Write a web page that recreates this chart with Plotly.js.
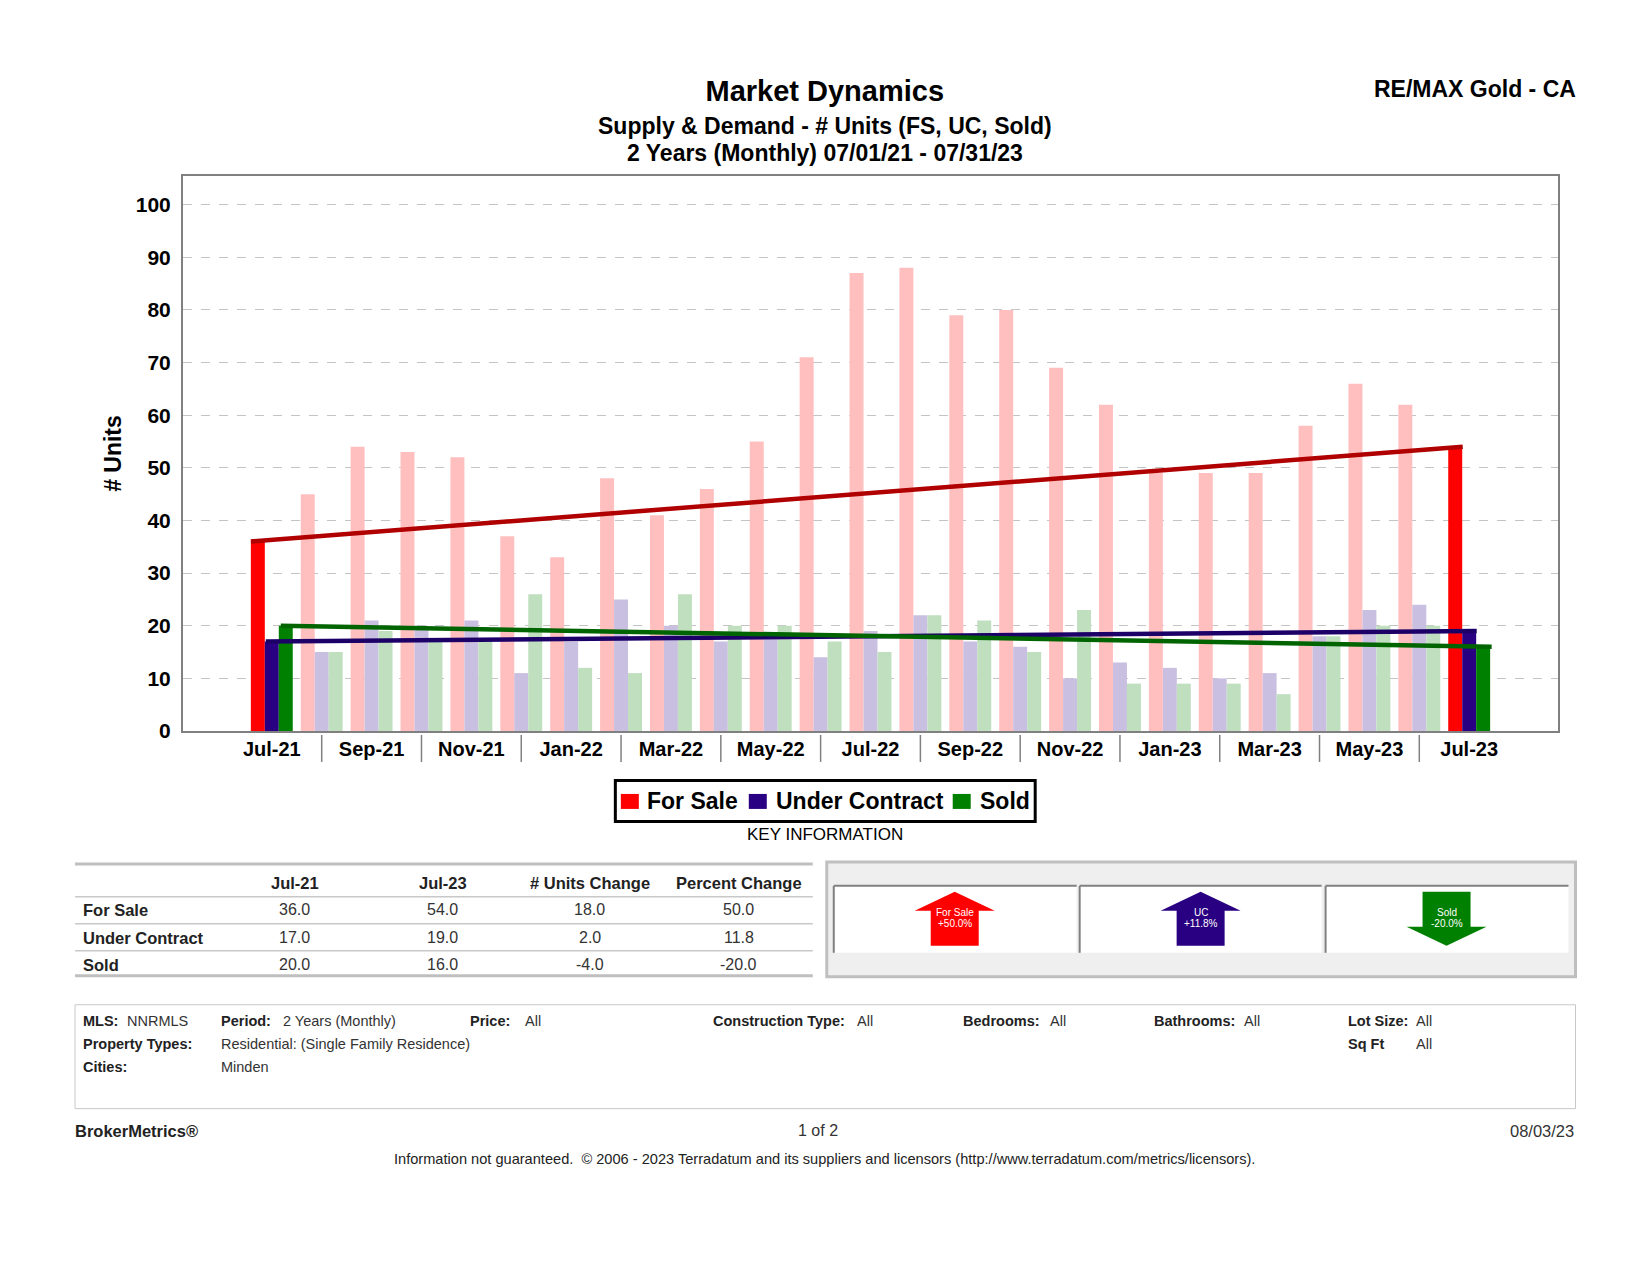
<!DOCTYPE html>
<html>
<head>
<meta charset="utf-8">
<script src="https://cdn.plot.ly/plotly-3.0.1.min.js"></script>
<style>html,body{margin:0;padding:0;background:#fff}#chart{width:1648px;height:1275px}</style>
</head>
<body>
<div id="chart"></div>
<script>
const months = ['Jul-21','Aug-21','Sep-21','Oct-21','Nov-21','Dec-21','Jan-22','Feb-22','Mar-22','Apr-22','May-22','Jun-22','Jul-22','Aug-22','Sep-22','Oct-22','Nov-22','Dec-22','Jan-23','Feb-23','Mar-23','Apr-23','May-23','Jun-23','Jul-23'];
const forSale = [36,45,54,53,52,37,33,48,41,46,55,71,87,88,79,80,69,62,49,49,49,58,66,62,54];
const underContract = [17,15,21,20,21,11,17,25,20,17,18,14,19,22,17,16,10,13,12,10,11,18,23,24,19];
const sold = [20,15,19,17,17,26,12,11,26,20,20,17,15,22,21,15,23,9,9,9,7,18,20,20,16];
const yTicks = [0,10,20,30,40,50,60,70,80,90,100];

const tableHeader = ['Jul-21','Jul-23','# Units Change','Percent Change'];
const tableRows = ['For Sale','Under Contract','Sold'];
const tableValues = [['36.0','54.0','18.0','50.0'],['17.0','19.0','2.0','11.8'],['20.0','16.0','-4.0','-20.0']];
const arrowLabels = [['For Sale','+50.0%'],['UC','+11.8%'],['Sold','-20.0%']];

const FONT = '"Liberation Sans", Arial, sans-serif';
const RED='#FF0000', BLUE='#2A0082', GREEN='#008000';
const PALE={[RED]:'#FFBFBF',[BLUE]:'#C9BFE0',[GREEN]:'#BFDFBF'};

// plot rectangle in page pixels
const W=1648,H=1275,L=183,R=1558.5,T=175.5,B=731;
const px=x=>(x-L)/(R-L);
const py=y=>(B-y)/(B-T);

const idx=months.map((_,i)=>i);
const last=months.length-1;
function barTrace(name,vals,col){
  return {type:'bar',name:name,x:idx,y:vals,
    marker:{color:vals.map((_,i)=>(i===0||i===last)?col:PALE[col]),line:{width:0}},
    hoverinfo:'x+y'};
}
function trend(vals,col,x0,x1){
  return {type:'scatter',mode:'lines',x:[x0,last+x1],y:[vals[0],vals[last]],showlegend:false,
    line:{color:col,width:4.5},hoverinfo:'skip'};
}
const traces=[
  barTrace('For Sale',forSale,RED),
  barTrace('Under Contract',underContract,BLUE),
  barTrace('Sold',sold,GREEN),
  trend(forSale,'#B00000',-0.42,-0.13),
  trend(underContract,'#1C0068',-0.12,0.15),
  trend(sold,'#006400',0.18,0.45)
];

const ann=[], shp=[];
function text(t,x,y,size,o){
  o=o||{};
  ann.push({text:o.bold?'<b>'+t+'</b>':t,xref:'paper',yref:'paper',x:px(x),y:py(y),showarrow:false,
    xanchor:o.a||'left',yanchor:'middle',borderpad:0,
    font:{family:FONT,size:size,color:o.c||'#000'}});
}
function rect(x0,y0,x1,y1,fill,line,lw){
  shp.push({type:'rect',xref:'paper',yref:'paper',x0:px(x0),x1:px(x1),y0:py(y0),y1:py(y1),
    fillcolor:fill||'rgba(0,0,0,0)',line:{color:line||'rgba(0,0,0,0)',width:lw||0},layer:'above'});
}
function hline(x0,x1,y,col,lw){
  shp.push({type:'line',xref:'paper',yref:'paper',x0:px(x0),x1:px(x1),y0:py(y),y1:py(y),line:{color:col,width:lw},layer:'above'});
}
function vline(x,y0,y1,col,lw){
  shp.push({type:'line',xref:'paper',yref:'paper',x0:px(x),x1:px(x),y0:py(y0),y1:py(y1),line:{color:col,width:lw},layer:'above'});
}

// headings
text('Supply &amp; Demand - # Units (FS, UC, Sold)',825,125,23,{a:'center',bold:true});
text('2 Years (Monthly) 07/01/21 - 07/31/23',825,152,23,{a:'center',bold:true});
text('RE/MAX Gold - CA',1578,88,23,{a:'right',bold:true});

// separators under the axis, between label pairs
idx.filter(i=>i%2===1).forEach(i=>{
  shp.push({type:'line',xref:'x',yref:'paper',x0:i,x1:i,y0:py(735),y1:py(762),line:{color:'#808080',width:1.5},layer:'above'});
});

// legend
rect(615.5,780.5,1035.5,821.5,'#FFFFFF','#000000',3);
[[621,646,'For Sale',RED],[749,775,'Under Contract',BLUE],[953,979,'Sold',GREEN]].forEach(e=>{
  rect(e[0],794,e[0]+18,809,e[3]);
  text(e[2],e[1],801,23,{bold:true});
});

text('KEY INFORMATION',825,835,17,{a:'center'});

// table
const colX=[295,443,590,739], rowY=[910,938,965];
hline(75,813,864,'#BFBFBF',3);
hline(75,813,897,'#C8C8C8',1.5);
hline(75,813,924,'#C8C8C8',1.5);
hline(75,813,951,'#C8C8C8',1.5);
hline(75,813,976,'#BFBFBF',3);
tableHeader.forEach((h,i)=>text(h,colX[i],883,16.5,{a:'center',bold:true,c:'#222'}));
tableRows.forEach((r,j)=>{
  text(r,82,rowY[j],16.5,{bold:true,c:'#222'});
  tableValues[j].forEach((v,i)=>text(v,colX[i],rowY[j],16,{a:'center',c:'#333'}));
});

// arrows panel
rect(827,862,1576,977,'#EFEFEF','#BFBFBF',3);
const panels=[[834,1077],[1080,1322],[1326,1569]];
panels.forEach(p=>{
  rect(p[0],886,p[1],953,'#FFFFFF');
  hline(p[0],p[1],886,'#808080',2);
  vline(p[0],886,953,'#808080',2);
});
const arrowCx=[955,1201,1447], arrowCol=[RED,BLUE,GREEN];
function arrowPath(cx,up){
  const pts=up
    ?[[cx,892],[cx+40,911],[cx+24,911],[cx+24,946],[cx-24,946],[cx-24,911],[cx-40,911]]
    :[[cx,946],[cx+40,927],[cx+24,927],[cx+24,892],[cx-24,892],[cx-24,927],[cx-40,927]];
  return 'M'+pts.map(p=>px(p[0])+','+py(p[1])).join('L')+'Z';
}
arrowCx.forEach((cx,i)=>{
  shp.push({type:'path',xref:'paper',yref:'paper',path:arrowPath(cx,i<2),fillcolor:arrowCol[i],line:{width:0},layer:'above'});
  text(arrowLabels[i][0],cx,913,10,{a:'center',c:'#fff'});
  text(arrowLabels[i][1],cx,924,10,{a:'center',c:'#fff'});
});

// filter box
rect(75,1005,1576,1109,'rgba(0,0,0,0)','#C8C8C8',1);
const fb=[
 ['MLS:',82,1021],['Period:',220,1021],['Price:',469,1021],['Construction Type:',712,1021],['Bedrooms:',962,1021],['Bathrooms:',1153,1021],['Lot Size:',1347,1021],
 ['Property Types:',82,1044],['Sq Ft',1347,1044],['Cities:',82,1067]];
const fr=[
 ['NNRMLS',126,1021],['2 Years (Monthly)',282,1021],['All',524,1021],['All',856,1021],['All',1049,1021],['All',1243,1021],['All',1415,1021],
 ['Residential: (Single Family Residence)',220,1044],['All',1415,1044],['Minden',220,1067]];
fb.forEach(f=>text(f[0],f[1],f[2],14.5,{bold:true,c:'#222'}));
fr.forEach(f=>text(f[0],f[1],f[2],14.5,{c:'#333'}));

// footer
text('BrokerMetrics®',74,1131,16.5,{bold:true,c:'#222'});
text('1 of 2',818,1131,16,{a:'center',c:'#333'});
text('08/03/23',1576,1131,16.5,{a:'right',c:'#333'});
text('Information not guaranteed.  © 2006 - 2023 Terradatum and its suppliers and licensors (http://www.terradatum.com/metrics/licensors).',825,1159,14.6,{a:'center',c:'#222'});

const layout={
  width:W,height:H,
  margin:{l:L,r:W-R,t:T,b:H-B,pad:0,autoexpand:false},
  paper_bgcolor:'#fff',plot_bgcolor:'#fff',
  font:{family:FONT,color:'#000'},
  title:{text:'<b>Market Dynamics</b>',font:{family:FONT,size:29,color:'#000'},xref:'paper',x:px(825),xanchor:'center',yref:'container',y:1-91/H,yanchor:'middle'},
  barmode:'group',bargap:0.16,bargroupgap:0,
  xaxis:{type:'linear',range:[-1.78,25.78],tickmode:'array',
    tickvals:idx.filter(i=>i%2===0),ticktext:months.filter((_,i)=>i%2===0),
    ticks:'',showgrid:false,zeroline:false,showline:true,linecolor:'#808080',linewidth:2,mirror:true,
    ticklabelstandoff:-1,tickfont:{family:FONT,size:20,color:'#000',weight:'bold'},tickangle:0},
  yaxis:{range:[0,105.45],tickmode:'array',tickvals:yTicks,
    ticks:'',showgrid:true,griddash:'dash',gridcolor:'#C4C4C4',gridwidth:1,zeroline:false,
    showline:true,linecolor:'#808080',linewidth:2,mirror:true,
    ticklabelstandoff:6,tickfont:{family:FONT,size:21,color:'#000',weight:'bold'},
    title:{text:'<b># Units</b>',font:{family:FONT,size:23,color:'#000'},standoff:8}},
  showlegend:false,
  annotations:ann,shapes:shp
};
Plotly.newPlot('chart',traces,layout,{displayModeBar:false,responsive:false});
</script>
</body>
</html>
